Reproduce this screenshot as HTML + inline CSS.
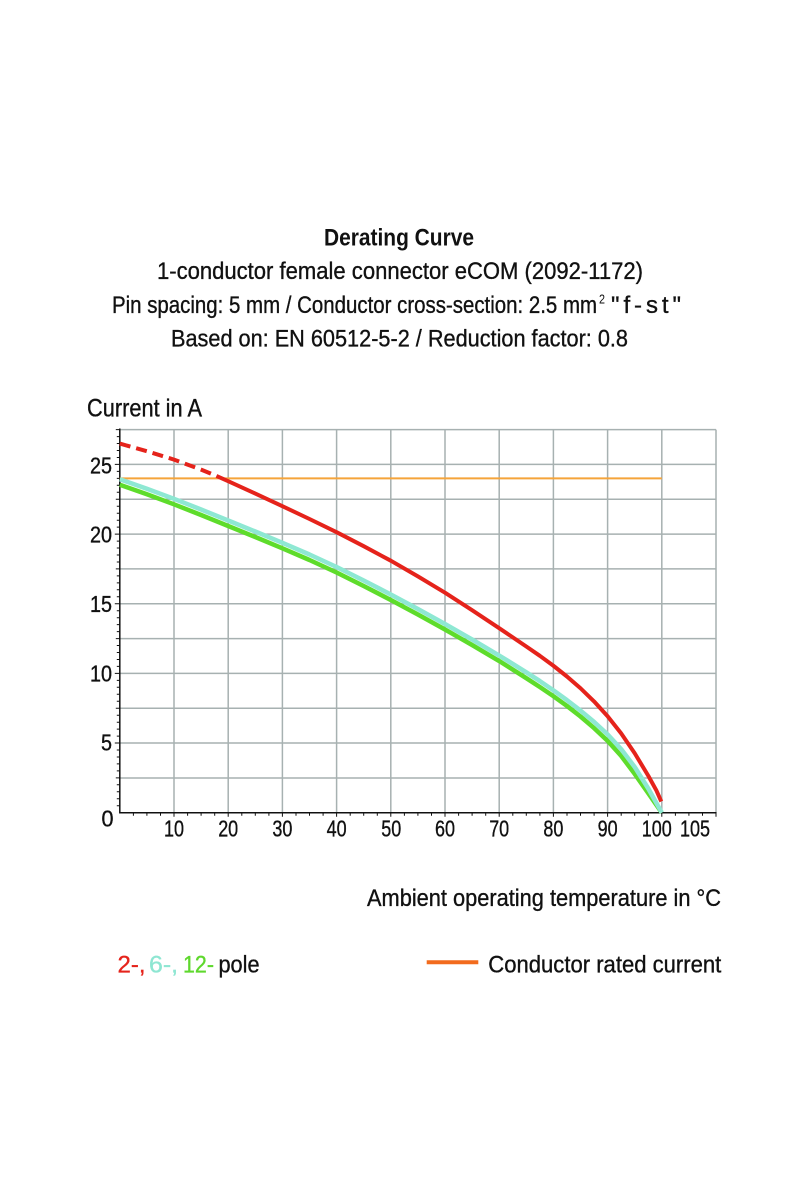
<!DOCTYPE html>
<html>
<head>
<meta charset="utf-8">
<style>
  html,body{margin:0;padding:0;background:#fff;}
  svg{display:block;}
  text{font-family:"Liberation Sans",Arial,sans-serif;fill:#111;}
  .t{stroke:#111;stroke-width:0.35px;}
</style>
</head>
<body>
<svg width="800" height="1200" viewBox="0 0 800 1200" xmlns="http://www.w3.org/2000/svg">
  <rect x="0" y="0" width="800" height="1200" fill="#fff"/>

  <!-- Titles -->
  <text x="324" y="245.5" font-size="24" font-weight="bold" textLength="150" lengthAdjust="spacingAndGlyphs">Derating Curve</text>
  <text class="t" x="157" y="279" font-size="24" textLength="486" lengthAdjust="spacingAndGlyphs">1-conductor female connector eCOM (2092-1172)</text>
  <text class="t" x="112" y="313" font-size="24" textLength="485" lengthAdjust="spacingAndGlyphs">Pin spacing: 5 mm / Conductor cross-section: 2.5 mm</text>
  <text x="599" y="303.5" font-size="13" textLength="6" lengthAdjust="spacingAndGlyphs">2</text>
  <text class="t" x="611" y="313" font-size="24" textLength="70" lengthAdjust="spacing">"f-st"</text>
  <text class="t" x="171" y="346.5" font-size="24" textLength="457" lengthAdjust="spacingAndGlyphs">Based on: EN 60512-5-2 / Reduction factor: 0.8</text>

  <text class="t" x="87" y="416.7" font-size="25" textLength="115" lengthAdjust="spacingAndGlyphs">Current in A</text>

  <!-- Grid -->
  <g stroke="#a7b1b1" stroke-width="1.5" fill="none">
    <path d="M119.8 778 H716 M119.8 743 H716 M119.8 708.2 H716 M119.8 673.4 H716 M119.8 638.6 H716 M119.8 603.8 H716 M119.8 568.9 H716 M119.8 534.1 H716 M119.8 499.3 H716 M119.8 464.4 H716 M119.8 429.6 H716"/>
    <path d="M174 429.6 V812.7 M228.2 429.6 V812.7 M282.4 429.6 V812.7 M336.6 429.6 V812.7 M390.8 429.6 V812.7 M445 429.6 V812.7 M499.2 429.6 V812.7 M553.4 429.6 V812.7 M607.6 429.6 V812.7 M661.8 429.6 V812.7 M716 429.6 V812.7"/>
  </g>

  <!-- Axes -->
  <g stroke="#111" stroke-width="1.5" fill="none">
    <path d="M119.8 428.5 V813.4 M119.1 812.7 H716.5"/>
  </g>
  <g stroke="#111" stroke-width="1" fill="none">
    <path d="M119.8 805.7h-3M119.8 798.8h-3M119.8 791.8h-3M119.8 784.8h-3M119.8 777.9h-4M119.8 770.9h-3M119.8 763.9h-3M119.8 757h-3M119.8 750h-3M119.8 743h-5M119.8 736.1h-3M119.8 729.1h-3M119.8 722.2h-3M119.8 715.2h-3M119.8 708.2h-4M119.8 701.3h-3M119.8 694.3h-3M119.8 687.3h-3M119.8 680.4h-3M119.8 673.4h-5M119.8 666.4h-3M119.8 659.5h-3M119.8 652.5h-3M119.8 645.5h-3M119.8 638.6h-4M119.8 631.6h-3M119.8 624.6h-3M119.8 617.7h-3M119.8 610.7h-3M119.8 603.8h-5M119.8 596.8h-3M119.8 589.8h-3M119.8 582.9h-3M119.8 575.9h-3M119.8 568.9h-4M119.8 562h-3M119.8 555h-3M119.8 548h-3M119.8 541.1h-3M119.8 534.1h-5M119.8 527.1h-3M119.8 520.2h-3M119.8 513.2h-3M119.8 506.2h-3M119.8 499.3h-4M119.8 492.3h-3M119.8 485.3h-3M119.8 478.4h-3M119.8 471.4h-3M119.8 464.4h-5M119.8 457.5h-3M119.8 450.5h-3M119.8 443.5h-3M119.8 436.6h-3M119.8 429.6h-4"/>
    <path d="M133.4 812.7v3M146.9 812.7v3M160.5 812.7v3M174 812.7v4M187.6 812.7v3M201.1 812.7v3M214.7 812.7v3M228.2 812.7v4M241.8 812.7v3M255.3 812.7v3M268.9 812.7v3M282.4 812.7v4M296 812.7v3M309.5 812.7v3M323.1 812.7v3M336.6 812.7v4M350.2 812.7v3M363.7 812.7v3M377.3 812.7v3M390.8 812.7v4M404.4 812.7v3M417.9 812.7v3M431.5 812.7v3M445 812.7v4M458.6 812.7v3M472.1 812.7v3M485.7 812.7v3M499.2 812.7v4M512.8 812.7v3M526.3 812.7v3M539.9 812.7v3M553.4 812.7v4M567 812.7v3M580.5 812.7v3M594.1 812.7v3M607.6 812.7v4M621.2 812.7v3M634.7 812.7v3M648.3 812.7v3M661.8 812.7v4M675.4 812.7v3M688.9 812.7v3M702.5 812.7v3M716 812.7v4"/>
  </g>

  <!-- Y labels -->
  <g font-size="23" text-anchor="end" class="t">
    <text x="113.5" y="826.5" textLength="12" lengthAdjust="spacingAndGlyphs">0</text>
    <text x="112" y="750.7" textLength="11" lengthAdjust="spacingAndGlyphs">5</text>
    <text x="112" y="681.5" textLength="22" lengthAdjust="spacingAndGlyphs">10</text>
    <text x="112" y="612" textLength="22" lengthAdjust="spacingAndGlyphs">15</text>
    <text x="112" y="542.5" textLength="22" lengthAdjust="spacingAndGlyphs">20</text>
    <text x="112" y="473.3" textLength="22" lengthAdjust="spacingAndGlyphs">25</text>
  </g>
  <!-- X labels -->
  <g font-size="23" class="t">
    <text x="164" y="836.7" textLength="20" lengthAdjust="spacingAndGlyphs">10</text>
    <text x="218.2" y="836.7" textLength="20" lengthAdjust="spacingAndGlyphs">20</text>
    <text x="272.4" y="836.7" textLength="20" lengthAdjust="spacingAndGlyphs">30</text>
    <text x="326.6" y="836.7" textLength="20" lengthAdjust="spacingAndGlyphs">40</text>
    <text x="381.3" y="836.7" textLength="20" lengthAdjust="spacingAndGlyphs">50</text>
    <text x="435" y="836.7" textLength="20" lengthAdjust="spacingAndGlyphs">60</text>
    <text x="489.2" y="836.7" textLength="20" lengthAdjust="spacingAndGlyphs">70</text>
    <text x="543.4" y="836.7" textLength="20" lengthAdjust="spacingAndGlyphs">80</text>
    <text x="597.6" y="836.7" textLength="20" lengthAdjust="spacingAndGlyphs">90</text>
    <text x="641.7" y="836.7" textLength="30" lengthAdjust="spacingAndGlyphs">100</text>
    <text x="680" y="836.7" textLength="30" lengthAdjust="spacingAndGlyphs">105</text>
  </g>

  <!-- Orange rated current line -->
  <path d="M119.8 478.4 H661.8" stroke="#f5a43a" stroke-width="2" fill="none"/>

  <!-- Red curve (2-pole): dashed first part then solid -->
  <path d="M119.8 443.6 L146.9 451.2 L174 459.6 L201.1 469.6 L214.65 475.2 L228.2 481.2 L255.3 493.6 L282.4 506.2 L309.5 519 L336.6 532.2 L363.7 546.2 L390.8 560.7 L417.9 576.4 L445 592.7 L472.1 610.2 L499.2 628.2 L526.3 646.5 L539.85 655.8 L553.4 665.75 L566.95 676.5 L580.5 688.25 L594.05 701.4 L607.6 716.25 L621.15 733.4 L634.7 753.25 L648.25 775.75 L656.38 790.45 L661.3 801.5" stroke="#e5231b" stroke-width="4" fill="none" stroke-linejoin="round" stroke-dasharray="11 6 11 6 11 6 11 6 11 6 11 6 3000 0"/>

  <!-- Green curve (12-pole) -->
  <path d="M119.8 484.7 L146.9 494.2 L174 504.3 L201.1 515 L228.2 526 L255.3 537 L282.4 548.3 L309.5 560 L336.6 572.5 L363.7 586 L390.8 600 L417.9 614.5 L445 629.5 L472.1 645 L499.2 661 L526.3 678.2 L539.85 687 L553.4 696.2 L566.95 705.95 L580.5 716.5 L594.05 728.1 L607.6 740.9 L621.15 755.9 L634.7 773.9 L648.25 793.2 L661.8 812.7" stroke="#5edc2b" stroke-width="4.5" fill="none" stroke-linejoin="round"/>

  <!-- Cyan curve (6-pole) -->
  <path d="M119.8 479.2 L146.9 488.7 L174 498.8 L201.1 509.5 L228.2 520.5 L255.3 531.5 L282.4 542.8 L309.5 554.5 L336.6 567 L363.7 580.5 L390.8 594.5 L417.9 609 L445 624 L472.1 639.5 L499.2 655.5 L526.3 672.3 L539.85 681.05 L553.4 690.3 L566.95 700.1 L580.5 710.55 L594.05 721.85 L607.6 734.4 L621.15 749.15 L634.7 767 L648.25 788.5 L661.8 812.7" stroke="#8ee8d3" stroke-width="4.5" fill="none" stroke-linejoin="round"/>

  <!-- X axis title -->
  <text class="t" x="367" y="906" font-size="24" textLength="354" lengthAdjust="spacingAndGlyphs">Ambient operating temperature in °C</text>

  <!-- Legend -->
  <text x="117.5" y="972.7" font-size="24" style="fill:#e5231b;stroke:#e5231b;stroke-width:0.35px" textLength="28" lengthAdjust="spacingAndGlyphs">2-,</text>
  <text x="149" y="972.7" font-size="24" style="fill:#8ee6d2;stroke:#8ee6d2;stroke-width:0.35px" textLength="29" lengthAdjust="spacingAndGlyphs">6-,</text>
  <text x="183" y="972.7" font-size="24" style="fill:#5ed82d;stroke:#5ed82d;stroke-width:0.35px" textLength="31" lengthAdjust="spacingAndGlyphs">12-</text>
  <text class="t" x="218.5" y="972.7" font-size="24" textLength="41" lengthAdjust="spacingAndGlyphs">pole</text>

  <path d="M426.7 962.3 H478.3" stroke="#f26b1d" stroke-width="4" fill="none"/>
  <text class="t" x="488.3" y="972.7" font-size="24" textLength="233" lengthAdjust="spacingAndGlyphs">Conductor rated current</text>
</svg>
</body>
</html>
